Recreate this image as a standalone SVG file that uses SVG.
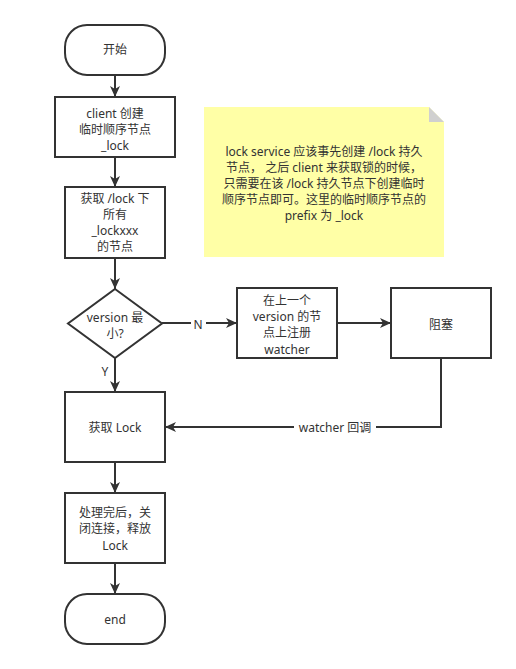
<svg xmlns="http://www.w3.org/2000/svg" width="516" height="669" viewBox="0 0 516 669">
<defs>
<style>
.n{fill:#fff;stroke:#333;stroke-width:2}
.t{font-family:"Noto Sans","Noto Sans CJK SC",sans-serif;font-size:12px;fill:#333;text-anchor:middle}
.c{fill:none;stroke:#333;stroke-width:2}
.lb{fill:#fff}
</style>
<marker id="a" markerWidth="12" markerHeight="10" refX="11" refY="5" orient="auto" markerUnits="userSpaceOnUse">
<path d="M0,0 L11,5 L0,10 L3,5 Z" fill="#333"/>
</marker>
</defs>
<rect width="516" height="669" fill="#fff"/>
<g id="connectors">
<path class="c" d="M115,75 V97" marker-end="url(#a)"/>
<path class="c" d="M115,157 V187" marker-end="url(#a)"/>
<path class="c" d="M115,258 V289" marker-end="url(#a)"/>
<path class="c" d="M115,358 V392" marker-end="url(#a)"/>
<path class="c" d="M162,323 H237" marker-end="url(#a)"/>
<path class="c" d="M337,323 H391" marker-end="url(#a)"/>
<path class="c" d="M441,358 V427 H165" marker-end="url(#a)"/>
<path class="c" d="M115,462 V493" marker-end="url(#a)"/>
<path class="c" d="M115,563 V594" marker-end="url(#a)"/>
<rect class="lb" x="191" y="317" width="15" height="15"/>
<text class="t" x="198" y="329">N</text>
<rect class="lb" x="99" y="365" width="12" height="14"/>
<text class="t" x="105" y="376">Y</text>
<rect class="lb" x="294" y="420" width="82" height="15"/>
<text class="t" x="335" y="432">watcher 回调</text>
</g>
<g id="start">
<rect class="n" x="65" y="25" width="100" height="50" rx="22"/>
<text class="t" x="115" y="54">开始</text>
</g>
<g id="create">
<rect class="n" x="55" y="97" width="120" height="60"/>
<text class="t" x="115" y="118">client 创建</text>
<text class="t" x="115" y="134">临时顺序节点</text>
<text class="t" x="115" y="150">_lock</text>
</g>
<g id="getall">
<rect class="n" x="65" y="187" width="100" height="71"/>
<text class="t" x="115" y="203">获取 /lock 下</text>
<text class="t" x="115" y="219">所有</text>
<text class="t" x="115" y="235">_lockxxx</text>
<text class="t" x="115" y="251">的节点</text>
</g>
<g id="note">
<path d="M204,107 H429 L444,122 V257 H204 Z" fill="#ffffa6" stroke="none"/>
<path d="M429,107 L444,122 H429 Z" fill="#d0d0d0"/>
<text class="t" x="324" y="156">lock service 应该事先创建 /lock 持久</text>
<text class="t" x="324" y="172">节点， 之后 client 来获取锁的时候，</text>
<text class="t" x="324" y="188">只需要在该 /lock 持久节点下创建临时</text>
<text class="t" x="324" y="204">顺序节点即可。这里的临时顺序节点的</text>
<text class="t" x="324" y="220">prefix 为 _lock</text>
</g>
<g id="decision">
<path class="n" d="M115,289 L162,323.5 L115,358 L68,323.5 Z"/>
<text class="t" x="115" y="322">version 最</text>
<text class="t" x="115" y="338">小?</text>
</g>
<g id="watch">
<rect class="n" x="237" y="288" width="100" height="70"/>
<text class="t" x="287" y="305">在上一个</text>
<text class="t" x="287" y="321">version 的节</text>
<text class="t" x="287" y="337">点上注册</text>
<text class="t" x="287" y="354">watcher</text>
</g>
<g id="block">
<rect class="n" x="391" y="288" width="100" height="70"/>
<text class="t" x="441" y="329">阻塞</text>
</g>
<g id="getlock">
<rect class="n" x="65" y="392" width="100" height="70"/>
<text class="t" x="115" y="432">获取 Lock</text>
</g>
<g id="release">
<rect class="n" x="65" y="493" width="100" height="70"/>
<text class="t" x="115" y="517">处理完后，关</text>
<text class="t" x="115" y="533">闭连接，释放</text>
<text class="t" x="115" y="550">Lock</text>
</g>
<g id="end">
<rect class="n" x="65" y="594" width="100" height="50" rx="22"/>
<text class="t" x="115" y="624">end</text>
</g>
</svg>
